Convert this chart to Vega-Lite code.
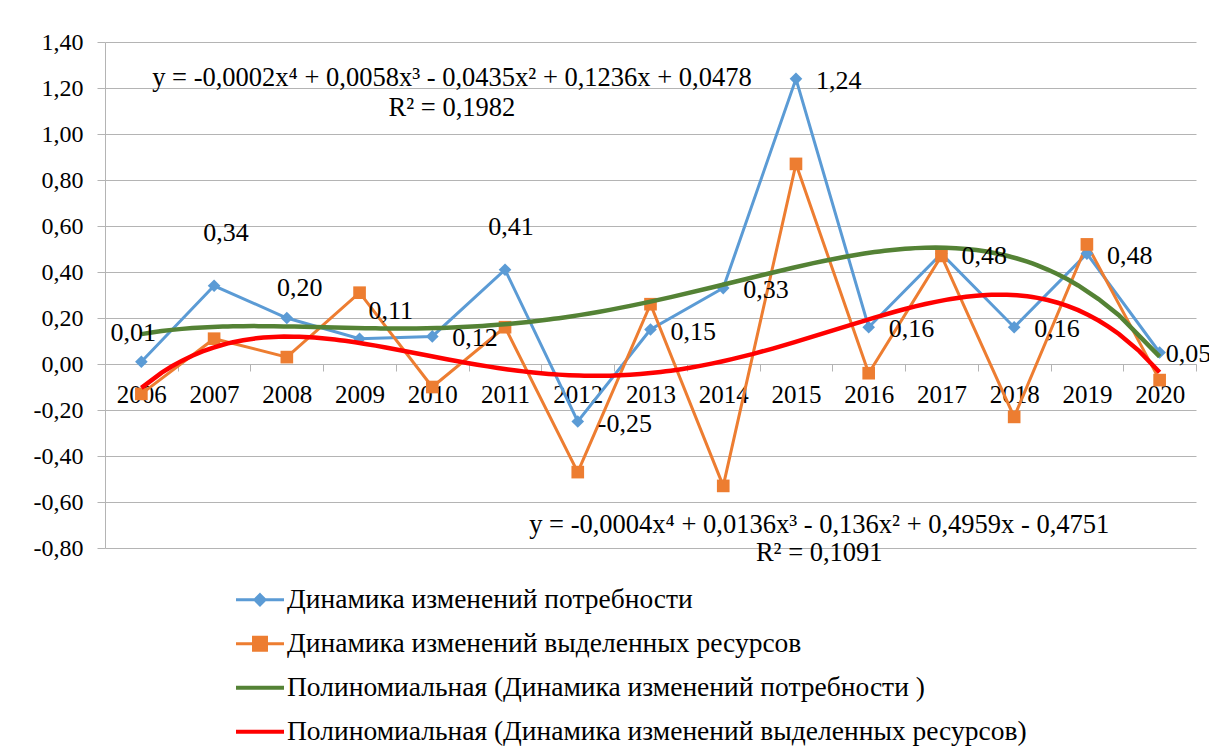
{
  "$schema": "https://vega.github.io/schema/vega-lite/v6.json",
  "autosize": {"type": "none"},
  "width": 1091,
  "height": 506,
  "padding": {"left": 105, "top": 42, "right": 13, "bottom": 203},
  "background": "white",
  "config": {
    "view": {"stroke": null},
    "locale": {"number": {"decimal": ",", "thousands": " ", "grouping": [3], "currency": ["", ""], "minus": "-"}},
    "text": {"font": "Times New Roman, Liberation Serif, DejaVu Serif, serif"}
  },
  "datasets": {
    "main": [
      {"year": 2006, "series": "Динамика изменений потребности", "value": 0.01},
      {"year": 2007, "series": "Динамика изменений потребности", "value": 0.34},
      {"year": 2008, "series": "Динамика изменений потребности", "value": 0.20},
      {"year": 2009, "series": "Динамика изменений потребности", "value": 0.11},
      {"year": 2010, "series": "Динамика изменений потребности", "value": 0.12},
      {"year": 2011, "series": "Динамика изменений потребности", "value": 0.41},
      {"year": 2012, "series": "Динамика изменений потребности", "value": -0.25},
      {"year": 2013, "series": "Динамика изменений потребности", "value": 0.15},
      {"year": 2014, "series": "Динамика изменений потребности", "value": 0.33},
      {"year": 2015, "series": "Динамика изменений потребности", "value": 1.24},
      {"year": 2016, "series": "Динамика изменений потребности", "value": 0.16},
      {"year": 2017, "series": "Динамика изменений потребности", "value": 0.48},
      {"year": 2018, "series": "Динамика изменений потребности", "value": 0.16},
      {"year": 2019, "series": "Динамика изменений потребности", "value": 0.48},
      {"year": 2020, "series": "Динамика изменений потребности", "value": 0.05},
      {"year": 2006, "series": "Динамика изменений выделенных ресурсов", "value": -0.13},
      {"year": 2007, "series": "Динамика изменений выделенных ресурсов", "value": 0.11},
      {"year": 2008, "series": "Динамика изменений выделенных ресурсов", "value": 0.03},
      {"year": 2009, "series": "Динамика изменений выделенных ресурсов", "value": 0.31},
      {"year": 2010, "series": "Динамика изменений выделенных ресурсов", "value": -0.10},
      {"year": 2011, "series": "Динамика изменений выделенных ресурсов", "value": 0.16},
      {"year": 2012, "series": "Динамика изменений выделенных ресурсов", "value": -0.47},
      {"year": 2013, "series": "Динамика изменений выделенных ресурсов", "value": 0.26},
      {"year": 2014, "series": "Динамика изменений выделенных ресурсов", "value": -0.53},
      {"year": 2015, "series": "Динамика изменений выделенных ресурсов", "value": 0.87},
      {"year": 2016, "series": "Динамика изменений выделенных ресурсов", "value": -0.04},
      {"year": 2017, "series": "Динамика изменений выделенных ресурсов", "value": 0.47},
      {"year": 2018, "series": "Динамика изменений выделенных ресурсов", "value": -0.23},
      {"year": 2019, "series": "Динамика изменений выделенных ресурсов", "value": 0.52},
      {"year": 2020, "series": "Динамика изменений выделенных ресурсов", "value": -0.07}
    ],
    "notes": [
      {"x": 2010.27, "y": 1.243, "text": "y = -0,0002x⁴ + 0,0058x³ - 0,0435x² + 0,1236x + 0,0478"},
      {"x": 2010.27, "y": 1.113, "text": "R² = 0,1982"},
      {"x": 2015.32, "y": -0.70, "text": "y = -0,0004x⁴ + 0,0136x³ - 0,136x² + 0,4959x - 0,4751"},
      {"x": 2015.32, "y": -0.822, "text": "R² = 0,1091"}
    ]
  },
  "data": {"name": "main"},
  "encoding": {
    "x": {
      "field": "year", "type": "quantitative",
      "scale": {"domain": [2005.5, 2020.5], "nice": false, "zero": false},
      "axis": {
        "title": null,
        "values": [2005.5, 2006.5, 2007.5, 2008.5, 2009.5, 2010.5, 2011.5, 2012.5, 2013.5, 2014.5, 2015.5, 2016.5, 2017.5, 2018.5, 2019.5, 2020.5],
        "labelExpr": "datum.value < 2020 ? format(datum.value + 0.5, 'd') : ''",
        "labelOffset": 36.37,
        "offset": -184,
        "grid": false,
        "tickSize": 7,
        "tickColor": "#b4b4b4",
        "domainColor": "#b4b4b4",
        "labelFont": "Times New Roman, Liberation Serif, DejaVu Serif, serif",
        "labelFontSize": 25,
        "labelColor": "black",
        "labelPadding": 11,
        "labelFlush": false,
        "labelOverlap": false,
        "labelBound": false
      }
    },
    "y": {
      "field": "value", "type": "quantitative",
      "scale": {"domain": [-0.8, 1.4], "nice": false, "zero": false},
      "axis": {
        "title": null,
        "values": [-0.8, -0.6, -0.4, -0.2, 0, 0.2, 0.4, 0.6, 0.8, 1.0, 1.2, 1.4],
        "format": ".2f",
        "grid": true,
        "gridColor": "#b4b4b4",
        "gridWidth": 1,
        "tickSize": 8,
        "tickColor": "#b4b4b4",
        "domainColor": "#b4b4b4",
        "labelFont": "Times New Roman, Liberation Serif, DejaVu Serif, serif",
        "labelFontSize": 24,
        "labelColor": "black",
        "labelPadding": 14
      }
    }
  },
  "layer": [
    {
      "mark": {"type": "line", "strokeWidth": 3},
      "encoding": {
        "color": {
          "field": "series", "type": "nominal",
          "scale": {
            "domain": ["Динамика изменений потребности", "Динамика изменений выделенных ресурсов", "Полиномиальная (Динамика изменений потребности )", "Полиномиальная (Динамика изменений выделенных ресурсов)"],
            "range": ["#5B9BD5", "#ED7D31", "#548235", "#FF0000"]
          },
          "legend": {
            "orient": "none", "legendX": 131, "legendY": 544,
            "direction": "vertical", "title": null,
            "symbolSize": 2304, "symbolStrokeWidth": 3,
            "labelFont": "Times New Roman, Liberation Serif, DejaVu Serif, serif", "labelFontSize": 27.5, "labelColor": "black",
            "labelLimit": 0, "rowPadding": 15, "labelOffset": 3, "padding": 0,
            "encode": {
              "symbols": {
                "update": {
                  "x": {"value": 24},
                  "shape": {"signal": "datum.index == 0 ? 'M-1,0H1M0,-0.21L0.21,0L0,0.21L-0.21,0Z' : datum.index == 1 ? 'M-1,0H1M-0.27,-0.27H0.27V0.27H-0.27Z' : 'M-1,0H1'"},
                  "fill": {"scale": "color", "field": "value"},
                  "stroke": {"scale": "color", "field": "value"},
                  "strokeWidth": {"signal": "datum.index < 2 ? 3 : 4"}
                }
              },
              "labels": {
                "update": {"x": {"value": 51}}
              }
            }
          }
        }
      }
    },
    {
      "mark": {"type": "point", "filled": true, "opacity": 1, "size": 160},
      "encoding": {
        "color": {"field": "series", "type": "nominal"},
        "shape": {
          "field": "series", "type": "nominal",
          "scale": {"domain": ["Динамика изменений потребности", "Динамика изменений выделенных ресурсов"], "range": ["diamond", "square"]},
          "legend": null
        }
      }
    },
    {
      "transform": [
        {"filter": "datum.series == 'Динамика изменений потребности'"},
        {"regression": "value", "on": "year", "method": "poly", "order": 4}
      ],
      "mark": {"type": "line", "strokeWidth": 4.5},
      "encoding": {"color": {"datum": "Полиномиальная (Динамика изменений потребности )"}}
    },
    {
      "transform": [
        {"filter": "datum.series == 'Динамика изменений выделенных ресурсов'"},
        {"regression": "value", "on": "year", "method": "poly", "order": 4}
      ],
      "mark": {"type": "line", "strokeWidth": 4.5},
      "encoding": {"color": {"datum": "Полиномиальная (Динамика изменений выделенных ресурсов)"}}
    },
    {
      "transform": [
        {"filter": "datum.series == 'Динамика изменений потребности' && indexof([2006, 2007, 2008, 2009, 2011, 2020], datum.year) < 0"}
      ],
      "mark": {"type": "text", "align": "left", "baseline": "middle", "dx": 20, "dy": 2, "fontSize": 26, "fill": "black"},
      "encoding": {"text": {"field": "value", "type": "quantitative", "format": ".2f"}}
    },
    {
      "transform": [{"filter": "datum.series == 'Динамика изменений потребности' && datum.year == 2020"}],
      "mark": {"type": "text", "align": "left", "baseline": "middle", "dx": 6, "dy": 1, "fontSize": 26, "fill": "black"},
      "encoding": {"text": {"field": "value", "type": "quantitative", "format": ".2f"}}
    },
    {
      "transform": [{"filter": "datum.series == 'Динамика изменений потребности' && datum.year == 2006"}],
      "mark": {"type": "text", "align": "center", "baseline": "middle", "dx": -8, "dy": -29, "fontSize": 26, "fill": "black"},
      "encoding": {"text": {"field": "value", "type": "quantitative", "format": ".2f"}}
    },
    {
      "transform": [{"filter": "datum.series == 'Динамика изменений потребности' && datum.year == 2007"}],
      "mark": {"type": "text", "align": "center", "baseline": "middle", "dx": 12, "dy": -53, "fontSize": 26, "fill": "black"},
      "encoding": {"text": {"field": "value", "type": "quantitative", "format": ".2f"}}
    },
    {
      "transform": [{"filter": "datum.series == 'Динамика изменений потребности' && datum.year == 2008"}],
      "mark": {"type": "text", "align": "center", "baseline": "middle", "dx": 13, "dy": -30, "fontSize": 26, "fill": "black"},
      "encoding": {"text": {"field": "value", "type": "quantitative", "format": ".2f"}}
    },
    {
      "transform": [{"filter": "datum.series == 'Динамика изменений потребности' && datum.year == 2009"}],
      "mark": {"type": "text", "align": "left", "baseline": "middle", "dx": 9, "dy": -28, "fontSize": 26, "fill": "black"},
      "encoding": {"text": {"field": "value", "type": "quantitative", "format": ".2f"}}
    },
    {
      "transform": [{"filter": "datum.series == 'Динамика изменений потребности' && datum.year == 2011"}],
      "mark": {"type": "text", "align": "center", "baseline": "middle", "dx": 6, "dy": -43, "fontSize": 26, "fill": "black"},
      "encoding": {"text": {"field": "value", "type": "quantitative", "format": ".2f"}}
    },
    {
      "data": {"name": "notes"},
      "mark": {"type": "text", "align": "center", "baseline": "middle", "fontSize": 26.5, "fill": "black"},
      "encoding": {
        "x": {"field": "x", "type": "quantitative"},
        "y": {"field": "y", "type": "quantitative"},
        "text": {"field": "text"}
      }
    }
  ]
}
